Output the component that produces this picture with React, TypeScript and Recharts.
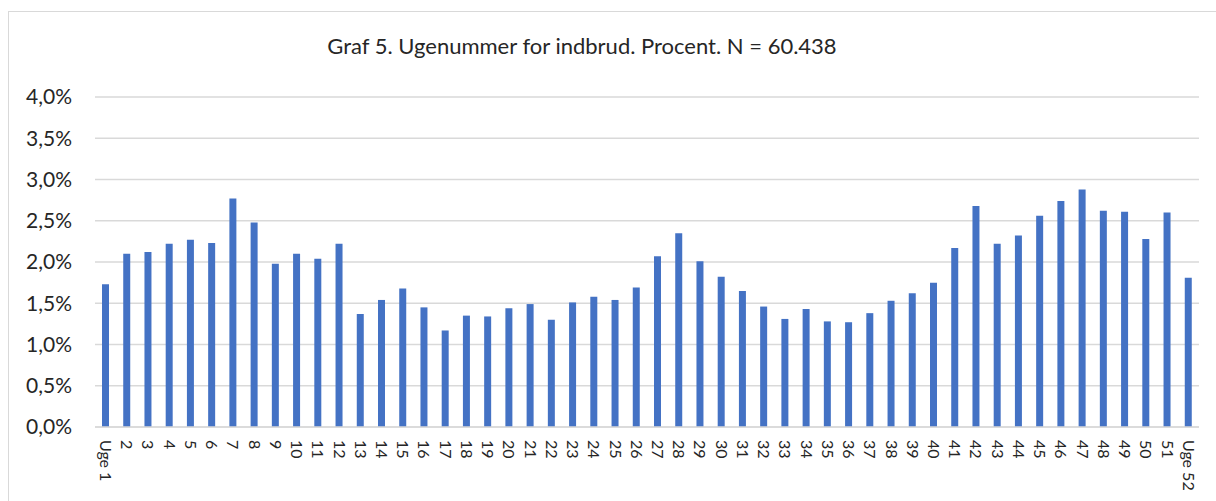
import { BarChart, Bar, XAxis, YAxis, CartesianGrid } from "recharts";

const weekLabels = [
  "Uge 1", "2", "3", "4", "5", "6", "7", "8", "9", "10",
  "11", "12", "13", "14", "15", "16", "17", "18", "19", "20",
  "21", "22", "23", "24", "25", "26", "27", "28", "29", "30",
  "31", "32", "33", "34", "35", "36", "37", "38", "39", "40",
  "41", "42", "43", "44", "45", "46", "47", "48", "49", "50",
  "51", "Uge 52",
];

// percent of burglaries per week
const sharePct = [
  1.73, 2.10, 2.12, 2.22, 2.27, 2.23, 2.77, 2.48, 1.98, 2.10,
  2.04, 2.22, 1.37, 1.54, 1.68, 1.45, 1.17, 1.35, 1.34, 1.44,
  1.49, 1.30, 1.51, 1.58, 1.54, 1.69, 2.07, 2.35, 2.01, 1.82,
  1.65, 1.46, 1.31, 1.43, 1.28, 1.27, 1.38, 1.53, 1.62, 1.75,
  2.17, 2.68, 2.22, 2.32, 2.56, 2.74, 2.88, 2.62, 2.61, 2.28,
  2.60, 1.81,
];

const yTicks = [0, 0.5, 1, 1.5, 2, 2.5, 3, 3.5, 4];

const data = weekLabels.map((week, i) => ({ week, value: sharePct[i] }));

const FONT = "Lato, 'Open Sans', sans-serif";
const TEXT = "#262626";

const fmtPct = (v: number) => v.toFixed(1).replace(".", ",") + "%";

function WeekTick({ x, y, payload }: any) {
  return (
    <g transform={`translate(${x},${y})`}>
      <text
        transform="rotate(90)"
        x={0}
        y={0}
        dy="0.35em"
        textAnchor="start"
        fontSize={16}
        fontFamily={FONT}
        fill={TEXT}
      >
        {payload.value}
      </text>
    </g>
  );
}

export default function App() {
  return (
    <div style={{ position: "absolute", left: 0, top: 0, width: 1216, height: 501, overflow: "hidden", background: "#fff" }}>
      <div
        style={{
          position: "absolute", left: 8, top: 11, width: 1230, height: 520,
          border: "1px solid #d9d9d9", boxSizing: "border-box",
        }}
      />
      <div
        style={{
          position: "absolute", left: 0, top: 31, width: 1164, textAlign: "center",
          fontFamily: FONT, fontSize: 22, color: TEXT, lineHeight: "30px",
        }}
      >
        Graf 5. Ugenummer for indbrud. Procent. N = 60.438
      </div>
      <div style={{ position: "absolute", left: 0, top: 0 }}>
        <BarChart
          width={1216}
          height={501}
          data={data}
          margin={{ top: 97, right: 17, left: 0, bottom: 0 }}
        >
          <CartesianGrid vertical={false} stroke="#d9d9d9" strokeWidth={1.3} />
          <XAxis
            dataKey="week"
            interval={0}
            tickLine={false}
            axisLine={{ stroke: "#d9d9d9", strokeWidth: 1.3 }}
            tickSize={6}
            tickMargin={7}
            height={74}
            tick={<WeekTick />}
          />
          <YAxis
            width={95}
            domain={[0, 4]}
            ticks={yTicks}
            tickFormatter={fmtPct}
            axisLine={false}
            tickLine={false}
            tickSize={6}
            tickMargin={17}
            tick={{ fontSize: 21, fontFamily: FONT, fill: TEXT }}
          />
          <Bar dataKey="value" fill="#4472C4" barSize={7} isAnimationActive={false} />
        </BarChart>
      </div>
    </div>
  );
}
